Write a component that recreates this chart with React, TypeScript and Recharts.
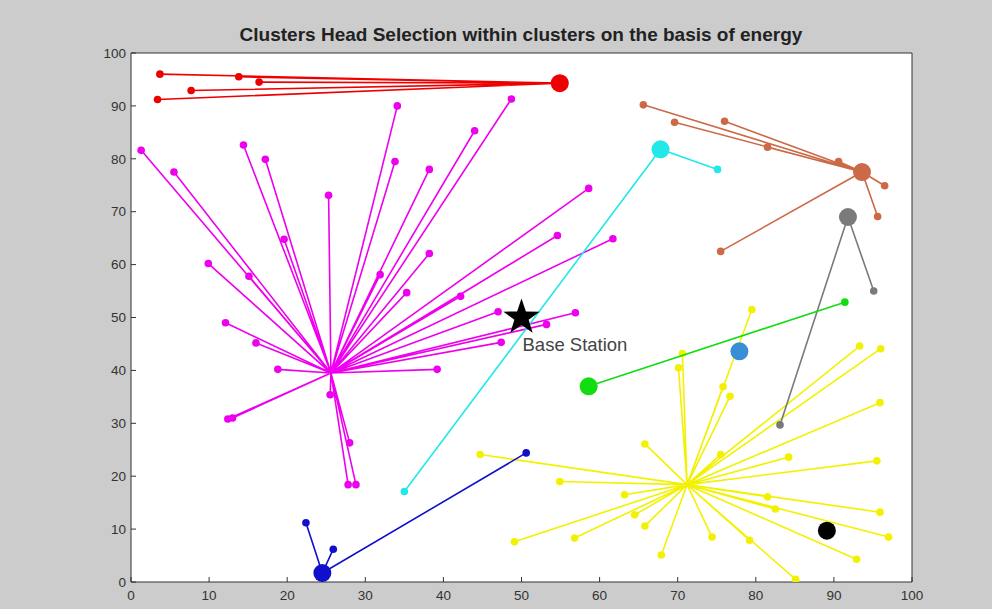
import React from 'react';
import { ScatterChart, Scatter, XAxis, YAxis, CartesianGrid } from 'recharts';

type Pt = [number, number];

// cluster heads and their member nodes
const redHead: Pt = [54.9, 94.3];
const redNodes: Pt[] = [[3.7, 96.0], [13.8, 95.5], [16.4, 94.5], [7.7, 92.9], [3.4, 91.2]];

const magentaHead: Pt = [25.6, 39.5];
const magentaNodes: Pt[] = [
  [1.3, 81.6], [5.5, 77.5], [14.4, 82.6], [17.2, 79.9], [25.3, 73.1], [19.6, 64.8],
  [9.9, 60.2], [15.1, 57.8], [34.1, 90.0], [48.7, 91.3], [44.0, 85.3], [33.8, 79.5],
  [38.2, 78.0], [38.2, 62.1], [31.9, 58.1], [35.3, 54.7], [42.2, 54.0], [58.6, 74.4],
  [54.6, 65.5], [61.7, 64.9], [47.0, 51.1], [56.9, 50.9], [53.2, 48.7], [47.4, 45.3],
  [39.2, 40.2], [12.1, 49.0], [16.0, 45.2], [18.8, 40.2], [13.0, 31.0], [12.4, 30.8],
  [25.5, 35.4], [28.0, 26.3], [27.8, 18.4], [28.8, 18.4],
];

const blueHead: Pt = [24.5, 1.7];
const blueNodes: Pt[] = [[22.4, 11.2], [25.9, 6.2], [50.6, 24.4]];

const cyanHead: Pt = [67.8, 81.8];
const cyanNodes: Pt[] = [[75.1, 78.0], [35.0, 17.1]];

const brownHead: Pt = [93.6, 77.5];
const brownNodes: Pt[] = [
  [65.6, 90.2], [69.6, 86.9], [76.0, 87.1], [81.5, 82.2], [90.6, 79.5],
  [96.5, 74.9], [95.6, 69.1], [75.5, 62.5],
];

const grayHead: Pt = [91.8, 69.0];
const grayNodes: Pt[] = [[95.1, 55.0], [83.1, 29.7]];

const greenHead: Pt = [58.6, 37.0];
const greenNodes: Pt[] = [[91.4, 52.9]];

const yellowHead: Pt = [71.2, 18.4];
const yellowNodes: Pt[] = [
  [79.5, 51.5], [93.3, 44.6], [96.0, 44.1], [95.9, 33.9], [95.5, 22.9], [95.9, 13.2],
  [97.0, 8.5], [92.9, 4.3], [85.1, 0.5], [79.2, 7.9], [74.4, 8.5], [67.9, 5.1],
  [65.8, 10.6], [64.5, 12.7], [63.2, 16.5], [56.8, 8.3], [49.1, 7.6], [54.9, 19.0],
  [44.7, 24.1], [65.8, 26.1], [70.1, 40.5], [70.6, 43.2], [75.8, 36.9], [76.7, 35.1],
  [75.5, 24.1], [84.2, 23.6], [81.5, 16.1], [82.5, 13.8],
];

const steelHead: Pt = [77.9, 43.6];
const blackHead: Pt = [89.1, 9.7];
const baseStation: Pt = [50, 50];

const xTicks = [0, 10, 20, 30, 40, 50, 60, 70, 80, 90, 100];
const yTicks = [0, 10, 20, 30, 40, 50, 60, 70, 80, 90, 100];

const title = 'Clusters Head Selection within clusters on the basis of energy';
const FONT = '"Liberation Sans", Arial, Helvetica, sans-serif';

// head -> node -> head -> node ... so the scatter line draws spokes
const spokes = (head: Pt, nodes: Pt[]) => {
  const out: { x: number; y: number; head?: boolean }[] = [];
  nodes.forEach((n) => {
    out.push({ x: head[0], y: head[1], head: true });
    out.push({ x: n[0], y: n[1] });
  });
  out.push({ x: head[0], y: head[1], head: true });
  return out;
};

const nodeDot = (color: string) => (props: any) => {
  if (props.payload.head) return <g />;
  return <circle cx={props.cx} cy={props.cy} r={3.8} fill={color} />;
};

const headDot = (color: string) => (props: any) => (
  <circle cx={props.cx} cy={props.cy} r={9} fill={color} />
);

const StationShape = (props: any) => {
  const { cx, cy } = props;
  const pts: string[] = [];
  for (let i = 0; i < 10; i++) {
    const r = i % 2 === 0 ? 19 : 7.5;
    const a = -Math.PI / 2 + (i * Math.PI) / 5;
    pts.push(`${cx + r * Math.cos(a)},${cy + r * Math.sin(a)}`);
  }
  return (
    <g>
      <polygon points={pts.join(' ')} fill="#000" />
      <text x={cx + 1} y={cy + 33} fontSize={18.5} fill="#444" fontFamily={FONT}>
        Base Station
      </text>
    </g>
  );
};

const clusters = [
  { key: 'yellow', color: '#f2f200', head: yellowHead, nodes: yellowNodes, big: false },
  { key: 'magenta', color: '#ee00ee', head: magentaHead, nodes: magentaNodes, big: false },
  { key: 'red', color: '#ee0000', head: redHead, nodes: redNodes, big: true },
  { key: 'blue', color: '#1010cc', head: blueHead, nodes: blueNodes, big: true },
  { key: 'cyan', color: '#22e8e8', head: cyanHead, nodes: cyanNodes, big: true },
  { key: 'brown', color: '#cc6a48', head: brownHead, nodes: brownNodes, big: true },
  { key: 'gray', color: '#7a7a7a', head: grayHead, nodes: grayNodes, big: true },
  { key: 'green', color: '#11dd11', head: greenHead, nodes: greenNodes, big: true },
];

export default function App() {
  return (
    <div style={{ position: 'absolute', left: 0, top: 0, width: 992, height: 609, background: '#cccccc', fontFamily: FONT }}>
      <div style={{ position: 'absolute', left: 131, width: 780, top: 24, textAlign: 'center', fontSize: 19, fontWeight: 'bold', color: '#222' }}>
        {title}
      </div>
      <ScatterChart width={992} height={609} margin={{ top: 53, right: 80, bottom: 0, left: 101 }}>
        <CartesianGrid fill="#ffffff" horizontal={false} vertical={false} xAxisId="b" yAxisId="l" />
        <XAxis xAxisId="b" type="number" dataKey="x" domain={[0, 100]} ticks={xTicks} height={27}
          stroke="#333" tickSize={-5} tickMargin={13} tick={{ fill: '#333', fontSize: 13.5, fontFamily: FONT }} allowDataOverflow />
        <XAxis xAxisId="t" orientation="top" type="number" dataKey="x" domain={[0, 100]} ticks={xTicks} height={1}
          stroke="#333" mirror tick={false} tickSize={5} allowDataOverflow />
        <YAxis yAxisId="l" type="number" dataKey="y" domain={[0, 100]} ticks={yTicks} width={30}
          stroke="#333" tickSize={-5} tickMargin={10} tick={{ fill: '#333', fontSize: 13.5, fontFamily: FONT }} allowDataOverflow />
        <YAxis yAxisId="r" orientation="right" type="number" dataKey="y" domain={[0, 100]} ticks={yTicks} width={1}
          stroke="#333" mirror tick={false} tickSize={5} allowDataOverflow />
        {clusters.map((c) => (
          <Scatter key={c.key} xAxisId="b" yAxisId="l" data={spokes(c.head, c.nodes)}
            line={{ stroke: c.color, strokeWidth: 1.6 }} shape={nodeDot(c.color)} isAnimationActive={false} />
        ))}
        {clusters.filter((c) => c.big).map((c) => (
          <Scatter key={c.key + '-head'} xAxisId="b" yAxisId="l" data={[{ x: c.head[0], y: c.head[1] }]}
            shape={headDot(c.color)} isAnimationActive={false} />
        ))}
        <Scatter xAxisId="b" yAxisId="l" data={[{ x: steelHead[0], y: steelHead[1] }]} shape={headDot('#3a8ed6')} isAnimationActive={false} />
        <Scatter xAxisId="b" yAxisId="l" data={[{ x: blackHead[0], y: blackHead[1] }]} shape={headDot('#000000')} isAnimationActive={false} />
        <Scatter xAxisId="b" yAxisId="l" data={[{ x: baseStation[0], y: baseStation[1] }]} shape={StationShape} isAnimationActive={false} />
      </ScatterChart>
    </div>
  );
}
